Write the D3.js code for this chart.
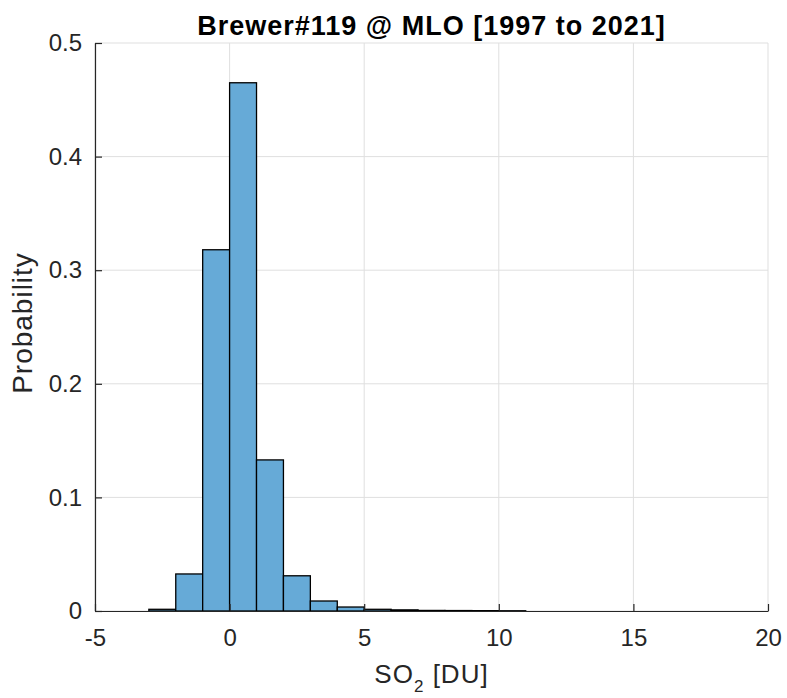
<!DOCTYPE html>
<html>
<head>
<meta charset="utf-8">
<script src="https://cdn.jsdelivr.net/npm/d3@7"></script>
<style>
  body { margin: 0; background: #fff; }
  text { font-family: "Liberation Sans", Arial, sans-serif; }
</style>
</head>
<body>
<svg id="chart" width="787" height="698"></svg>
<script>
// histogram bins (left edges, width 1 DU) and probabilities
const binEdges = [-3, -2, -1, 0, 1, 2, 3, 4, 5, 6, 7, 8, 9, 10];
const probs = [0.0015, 0.0326, 0.318, 0.465, 0.133, 0.031, 0.0088, 0.0035, 0.0015, 0.001, 0.0005, 0.0004, 0.0003, 0.0002];
const xTicks = [-5, 0, 5, 10, 15, 20];
const yTicks = [0, 0.1, 0.2, 0.3, 0.4, 0.5];

const svg = d3.select('#chart');
const m = { left: 95, right: 768, top: 43, bottom: 611 };

const x = d3.scaleLinear().domain([-5, 20]).range([m.left, m.right]);
const y = d3.scaleLinear().domain([0, 0.5]).range([m.bottom, m.top]);

// grid
svg.append('g').selectAll('line.gx')
  .data(xTicks)
  .enter().append('line')
  .attr('x1', d => x(d)).attr('x2', d => x(d))
  .attr('y1', m.top).attr('y2', m.bottom)
  .attr('stroke', '#dfdfdf').attr('stroke-width', 1);
svg.append('g').selectAll('line.gy')
  .data(yTicks)
  .enter().append('line')
  .attr('x1', m.left).attr('x2', m.right)
  .attr('y1', d => y(d)).attr('y2', d => y(d))
  .attr('stroke', '#dfdfdf').attr('stroke-width', 1);

// bars
svg.append('g').selectAll('rect')
  .data(probs)
  .enter().append('rect')
  .attr('x', (d, i) => x(binEdges[i]))
  .attr('width', (d, i) => x(binEdges[i] + 1) - x(binEdges[i]))
  .attr('y', d => y(d))
  .attr('height', d => y(0) - y(d))
  .attr('fill', 'rgb(102,170,215)')
  .attr('stroke', '#000')
  .attr('stroke-width', 1.3);

// axes (plain hyphen for negatives like matlab)
const xAxis = d3.axisBottom(x).tickValues(xTicks).tickSizeInner(-7).tickSizeOuter(0).tickPadding(18)
  .tickFormat(d => String(d));
const yAxis = d3.axisLeft(y).tickValues(yTicks).tickSizeInner(-7).tickSizeOuter(0).tickPadding(13)
  .tickFormat(d => d === 0 ? '0' : d3.format('.1f')(d));

const gx = svg.append('g').attr('transform', `translate(0,${m.bottom})`).call(xAxis);
const gy = svg.append('g').attr('transform', `translate(${m.left},0)`).call(yAxis);
[gx, gy].forEach(g => {
  g.select('.domain').attr('stroke', '#262626').attr('stroke-width', 1.2);
  g.selectAll('.tick line').attr('stroke', '#262626').attr('stroke-width', 1.2);
  g.selectAll('.tick text').attr('fill', '#262626').style('font-size', '24px')
    .style('font-family', '"Liberation Sans", Arial, sans-serif');
});

// title
svg.append('text')
  .attr('x', (m.left + m.right) / 2).attr('y', 35)
  .attr('text-anchor', 'middle')
  .style('font-size', '27px').style('font-weight', 'bold')
  .style('letter-spacing', '1px')
  .attr('fill', '#000')
  .text('Brewer#119 @ MLO [1997 to 2021]');

// y label
svg.append('text')
  .attr('transform', `translate(32,323) rotate(-90)`)
  .attr('text-anchor', 'middle')
  .style('font-size', '28px').style('letter-spacing', '1px')
  .attr('fill', '#262626')
  .text('Probability');

// x label with subscript
const xl = svg.append('text')
  .attr('x', (m.left + m.right) / 2).attr('y', 683)
  .attr('text-anchor', 'middle')
  .style('font-size', '26px').style('letter-spacing', '1px')
  .attr('fill', '#262626');
xl.append('tspan').text('SO');
xl.append('tspan').attr('dy', 9).style('font-size', '17px').text('2');
xl.append('tspan').attr('dy', -9).text(' [DU]');
</script>
</body>
</html>
